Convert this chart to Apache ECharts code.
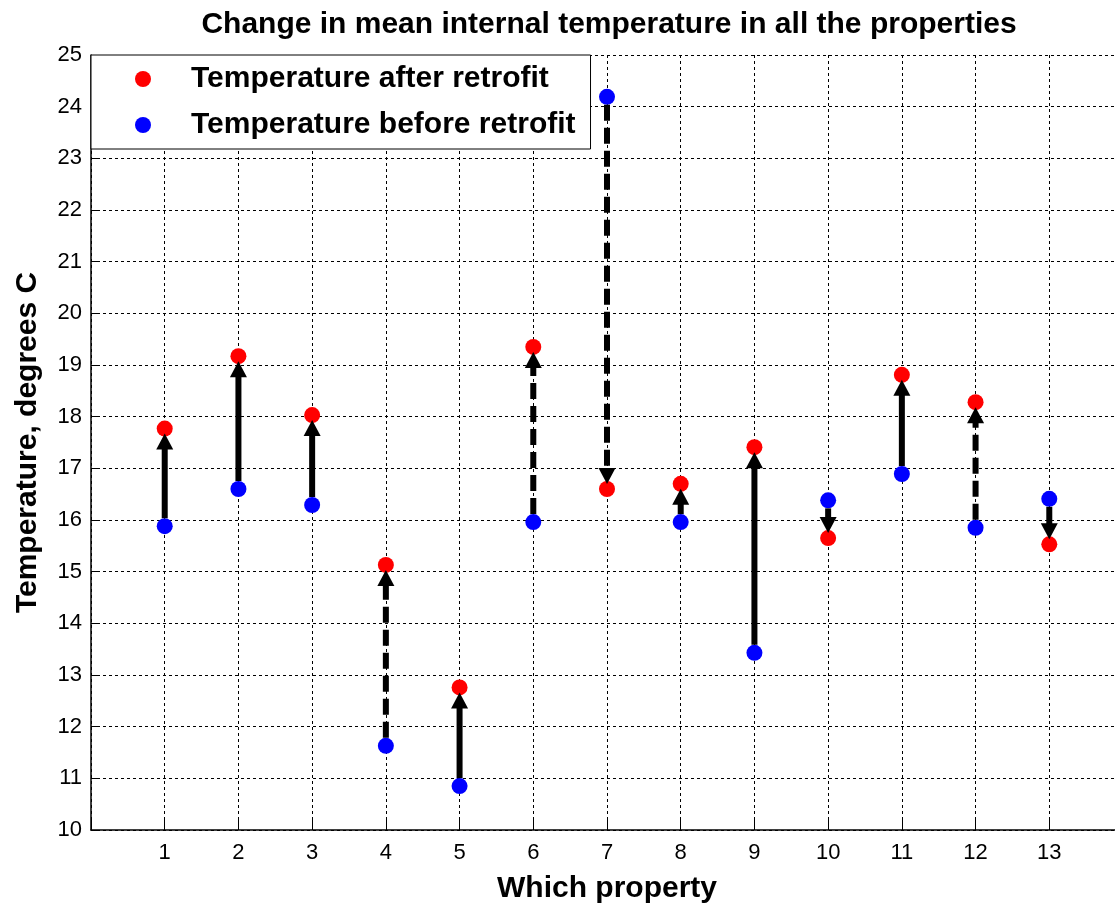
<!DOCTYPE html>
<html>
<head>
<meta charset="utf-8">
<script src="https://cdn.jsdelivr.net/npm/echarts@6/dist/echarts.min.js"></script>
<style>
html,body{margin:0;padding:0;background:#fff;}
#chart{width:1115px;height:904px;}
</style>
</head>
<body>
<div id="chart"></div>
<script>
// Data
var properties = [1,2,3,4,5,6,7,8,9,10,11,12,13];
var tempAfter  = [17.77,19.17,18.03,15.13,12.76,19.35,16.60,16.70,17.41,15.65,18.81,18.28,15.53];
var tempBefore = [15.88,16.60,16.29,11.63,10.85,15.96,24.19,15.96,13.43,16.38,16.89,15.85,16.41];
var arrowStyle = ['solid','solid','dotted','dashed','dotted','dashed','dashed','solid','solid','solid','solid','dashed','solid'];
var xTickLabels = ['1','2','3','4','5','6','7','8','9','10','11','12','13'];

var FONT = "'Liberation Sans', Arial, sans-serif";

var afterData = properties.map(function(p,i){return [p, tempAfter[i]];});
var beforeData = properties.map(function(p,i){return [p, tempBefore[i]];});
var arrowData = properties.map(function(p,i){return [p, tempBefore[i], tempAfter[i], i];});

function renderArrow(params, api){
  var x = api.value(0), y0 = api.value(1), y1 = api.value(2), idx = api.value(3);
  var p0 = api.coord([x, y0]);
  var p1 = api.coord([x, y1]);
  var dir = p1[1] < p0[1] ? -1 : 1;
  var startY = p0[1] + dir*8;
  var tipY = p1[1] - dir*5;
  var headLen = 16, headHalf = 8.5;
  var baseY = tipY - dir*headLen;
  var style = arrowStyle[idx];
  var lineDash = null;
  if (style === 'dashed') lineDash = [16,7];
  return {type:'group', children:[
    {type:'line', shape:{x1:p0[0], y1:startY, x2:p0[0], y2:baseY + dir*1},
     style:{stroke:'#000', lineWidth:6, lineDash:lineDash, lineCap:'butt'}},
    {type:'polygon', shape:{points:[[p0[0], tipY],[p0[0]-headHalf, baseY],[p0[0]+headHalf, baseY]]},
     style:{fill:'#000'}}
  ]};
}

var chart = echarts.init(document.getElementById('chart'), null, {renderer:'canvas'});
chart.setOption({
  backgroundColor:'#fff',
  animation:false,
  title:{
    text:'Change in mean internal temperature in all the properties',
    left:604, top:5, textAlign:'center',
    textStyle:{fontFamily:FONT, fontWeight:'bold', fontSize:30, color:'#000'}
  },
  legend:{
    left:91, top:55,
    orient:'vertical',
    backgroundColor:'#fff',
    borderColor:'#000', borderWidth:1, borderRadius:0,
    padding:[9,15,9,44],
    itemGap:16,
    itemWidth:16, itemHeight:16,
    icon:'circle',
    textStyle:{fontFamily:FONT, fontWeight:'bold', fontSize:30, color:'#000', padding:[0,0,0,35]},
    data:['Temperature after retrofit','Temperature before retrofit']
  },
  grid:{left:91, top:55, height:775, width:1032, containLabel:false, outerBoundsMode:'none'},
  xAxis:{
    type:'value', min:0, max:14, interval:1,
    name:'Which property', nameLocation:'middle', nameGap:44,
    nameTextStyle:{fontFamily:FONT, fontWeight:'bold', fontSize:30, color:'#000'},
    axisLine:{show:true, onZero:false, lineStyle:{color:'#000', width:1.5}},
    axisTick:{show:true, inside:true, length:10, lineStyle:{color:'#000'}},
    axisLabel:{fontFamily:FONT, fontSize:22, color:'#000', margin:12,
      formatter:function(v){return (v>=1 && v<=13) ? xTickLabels[v-1] : '';}},
    splitLine:{show:true, lineStyle:{color:'#000', type:[3,3], width:1}}
  },
  yAxis:{
    type:'value', min:10, max:25, interval:1,
    name:'Temperature, degrees C', nameLocation:'middle', nameGap:48,
    nameTextStyle:{fontFamily:FONT, fontWeight:'bold', fontSize:30, color:'#000'},
    axisLine:{show:true, lineStyle:{color:'#000', width:1.5}},
    axisTick:{show:true, inside:true, length:8, lineStyle:{color:'#000'}},
    axisLabel:{fontFamily:FONT, fontSize:22, color:'#000', margin:9},
    splitLine:{show:true, lineStyle:{color:'#000', type:[3,3], width:1}}
  },
  series:[
    {name:'Temperature after retrofit', type:'scatter', data:afterData,
     symbol:'circle', symbolSize:16, itemStyle:{color:'#ff0000', opacity:1}, z:2},
    {name:'Temperature before retrofit', type:'scatter', data:beforeData,
     symbol:'circle', symbolSize:16, itemStyle:{color:'#0000ff', opacity:1}, z:2},
    {type:'custom', renderItem:renderArrow, data:arrowData, z:3,
     encode:{x:0, y:[1,2]}, silent:true}
  ]
});
</script>
</body>
</html>
